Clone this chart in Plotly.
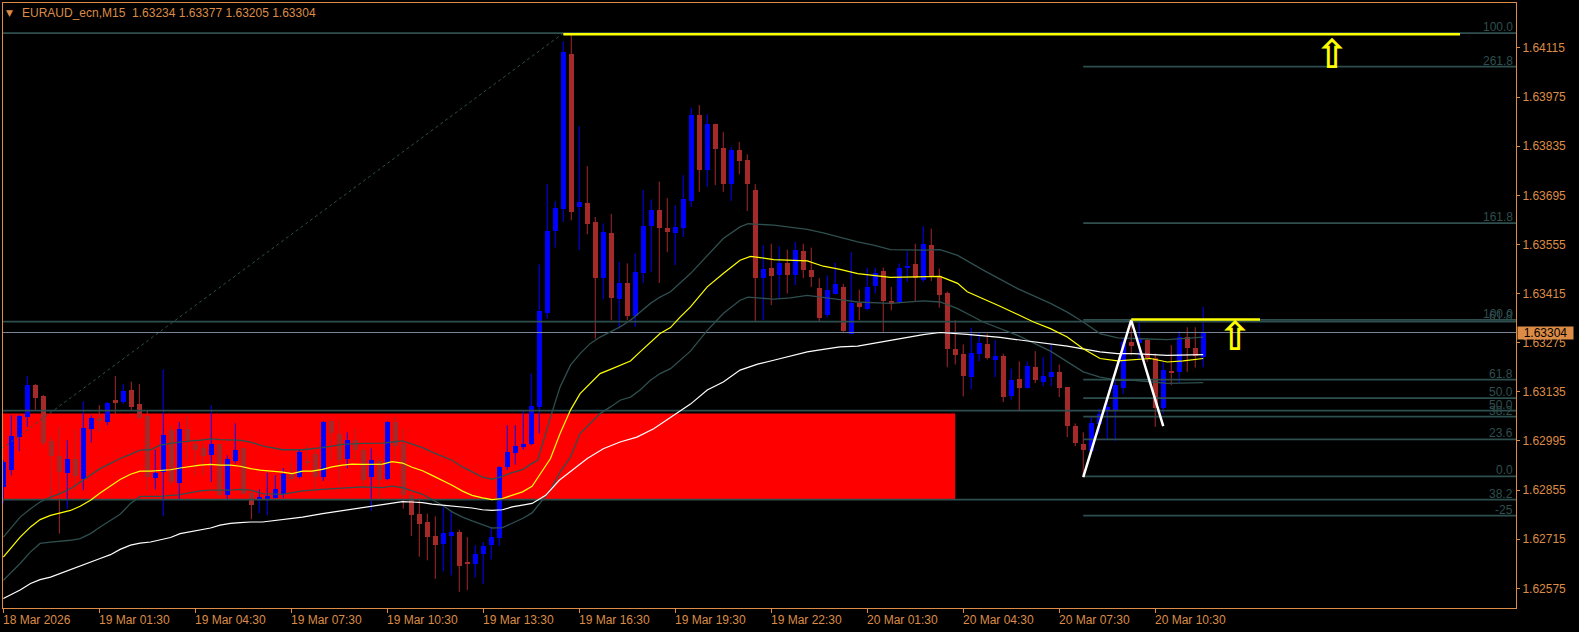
import pandas as pd
import plotly.graph_objects as go

TITLE = "EURAUD_ecn,M15  1.63234 1.63377 1.63205 1.63304"
FIRST_BAR_TIME = "2026-03-18 22:30"
BAR_MINUTES = 15
LAST_PRICE = 1.63304

OPEN = [1.62864, 1.62913, 1.63006, 1.63063, 1.63154, 1.63122, 1.62994, 1.62951, 1.62904, 1.62943,
        1.62886, 1.63028, 1.63061, 1.63048, 1.63113, 1.63106, 1.63140, 1.63100, 1.63065, 1.62890,
        1.62907, 1.63026, 1.62875, 1.63028, 1.62987, 1.62974, 1.62954, 1.62985, 1.62840, 1.62938,
        1.62974, 1.62847, 1.62826, 1.62829, 1.62833, 1.62843, 1.62903, 1.62892, 1.62937, 1.62959,
        1.62892, 1.63051, 1.63016, 1.62944, 1.62997, 1.62970, 1.62891, 1.62937, 1.62888, 1.63048,
        1.62985, 1.62840, 1.62786, 1.62764, 1.62723, 1.62702, 1.62724, 1.62735, 1.62650, 1.62644,
        1.62673, 1.62698, 1.62718, 1.62920, 1.62960, 1.62978, 1.62987, 1.63092, 1.63359, 1.63593,
        1.63655, 1.64097, 1.63662, 1.63672, 1.63618, 1.63460, 1.63587, 1.63400, 1.63444, 1.63351,
        1.63474, 1.63608, 1.63652, 1.63601, 1.63588, 1.63602, 1.63679, 1.63923, 1.63766, 1.63897,
        1.63830, 1.63727, 1.63823, 1.63795, 1.63710, 1.63460, 1.63488, 1.63467, 1.63503, 1.63467,
        1.63536, 1.63482, 1.63431, 1.63353, 1.63415, 1.63435, 1.63301, 1.63388, 1.63372, 1.63437,
        1.63479, 1.63393, 1.63391, 1.63488, 1.63498, 1.63455, 1.63553, 1.63465, 1.63416, 1.63256,
        1.63244, 1.63177, 1.63244, 1.63270, 1.63227, 1.63236, 1.63123, 1.63171, 1.63146, 1.63205,
        1.63164, 1.63177, 1.63192, 1.63149, 1.63039, 1.62987, 1.62966, 1.63043, 1.63080, 1.63084,
        1.63147, 1.63277, 1.63274, 1.63282, 1.63230, 1.63090, 1.63195, 1.63192, 1.63290, 1.63260,
        1.63234]
HIGH = [1.62940, 1.63068, 1.63068, 1.63180, 1.63157, 1.63126, 1.63006, 1.63035, 1.62997, 1.63028,
        1.63108, 1.63068, 1.63097, 1.63106, 1.63180, 1.63157, 1.63164, 1.63157, 1.63083, 1.62970,
        1.63199, 1.63040, 1.63049, 1.63068, 1.63003, 1.62990, 1.63097, 1.62987, 1.62954, 1.63045,
        1.62976, 1.62850, 1.62857, 1.62904, 1.62897, 1.62918, 1.62934, 1.62969, 1.62983, 1.62969,
        1.63051, 1.63053, 1.63056, 1.63020, 1.63030, 1.62975, 1.62974, 1.62945, 1.63051, 1.63063,
        1.63030, 1.62845, 1.62840, 1.62788, 1.62780, 1.62807, 1.62796, 1.62742, 1.62721, 1.62698,
        1.62707, 1.62750, 1.62923, 1.63040, 1.63040, 1.63083, 1.63187, 1.63498, 1.63727, 1.63678,
        1.64134, 1.64155, 1.63892, 1.63778, 1.63633, 1.63615, 1.63642, 1.63505, 1.63501, 1.63529,
        1.63710, 1.63683, 1.63734, 1.63687, 1.63667, 1.63752, 1.63945, 1.63952, 1.63926, 1.63899,
        1.63875, 1.63833, 1.63847, 1.63812, 1.63727, 1.63553, 1.63557, 1.63550, 1.63540, 1.63562,
        1.63557, 1.63546, 1.63459, 1.63467, 1.63503, 1.63443, 1.63533, 1.63426, 1.63489, 1.63489,
        1.63489, 1.63434, 1.63501, 1.63536, 1.63557, 1.63607, 1.63600, 1.63486, 1.63421, 1.63339,
        1.63270, 1.63318, 1.63306, 1.63301, 1.63282, 1.63244, 1.63201, 1.63222, 1.63222, 1.63251,
        1.63234, 1.63273, 1.63213, 1.63149, 1.63045, 1.63020, 1.63063, 1.63087, 1.63111, 1.63168,
        1.63286, 1.63339, 1.63343, 1.63286, 1.63244, 1.63219, 1.63268, 1.63308, 1.63319, 1.63319,
        1.63377]
LOW = [1.62817, 1.62897, 1.62966, 1.63035, 1.63084, 1.62983, 1.62826, 1.62731, 1.62802, 1.62855,
       1.62855, 1.62990, 1.63020, 1.63040, 1.63073, 1.63101, 1.63083, 1.63056, 1.62855, 1.62857,
       1.62781, 1.62869, 1.62826, 1.62940, 1.62897, 1.62897, 1.62878, 1.62835, 1.62828, 1.62931,
       1.62843, 1.62772, 1.62789, 1.62783, 1.62831, 1.62833, 1.62880, 1.62888, 1.62920, 1.62850,
       1.62881, 1.62940, 1.62874, 1.62917, 1.62940, 1.62869, 1.62796, 1.62831, 1.62883, 1.62940,
       1.62802, 1.62724, 1.62665, 1.62655, 1.62602, 1.62624, 1.62612, 1.62565, 1.62570, 1.62606,
       1.62587, 1.62657, 1.62696, 1.62912, 1.62928, 1.62970, 1.62983, 1.63016, 1.63343, 1.63546,
       1.63619, 1.63624, 1.63539, 1.63584, 1.63286, 1.63399, 1.63339, 1.63315, 1.63339, 1.63320,
       1.63445, 1.63477, 1.63445, 1.63533, 1.63496, 1.63576, 1.63662, 1.63705, 1.63719, 1.63724,
       1.63705, 1.63679, 1.63755, 1.63650, 1.63337, 1.63339, 1.63382, 1.63401, 1.63415, 1.63439,
       1.63459, 1.63434, 1.63334, 1.63347, 1.63413, 1.63306, 1.63299, 1.63339, 1.63367, 1.63415,
       1.63306, 1.63367, 1.63387, 1.63448, 1.63391, 1.63448, 1.63451, 1.63375, 1.63205, 1.63213,
       1.63122, 1.63142, 1.63222, 1.63227, 1.63177, 1.63106, 1.63113, 1.63080, 1.63144, 1.63160,
       1.63151, 1.63151, 1.63120, 1.63006, 1.62980, 1.62892, 1.62963, 1.63016, 1.62997, 1.62995,
       1.63129, 1.63239, 1.63225, 1.63220, 1.63035, 1.63073, 1.63154, 1.63160, 1.63192, 1.63204,
       1.63205]
CLOSE = [1.62935, 1.63008, 1.63065, 1.63154, 1.63118, 1.62989, 1.62951, 1.62907, 1.62943, 1.62895,
         1.63031, 1.63061, 1.63051, 1.63102, 1.63103, 1.63136, 1.63092, 1.63061, 1.62891, 1.62904,
         1.63011, 1.62879, 1.63028, 1.62997, 1.62970, 1.62951, 1.62985, 1.62840, 1.62943, 1.62969,
         1.62845, 1.62812, 1.62835, 1.62837, 1.62857, 1.62901, 1.62886, 1.62963, 1.62931, 1.62892,
         1.63048, 1.63019, 1.62942, 1.62997, 1.62970, 1.62885, 1.62940, 1.62885, 1.63048, 1.62980,
         1.62840, 1.62783, 1.62757, 1.62721, 1.62698, 1.62732, 1.62735, 1.62639, 1.62644, 1.62674,
         1.62697, 1.62720, 1.62920, 1.62963, 1.62980, 1.62985, 1.63094, 1.63364, 1.63592, 1.63659,
         1.64104, 1.63648, 1.63675, 1.63613, 1.63460, 1.63590, 1.63403, 1.63446, 1.63351, 1.63476,
         1.63607, 1.63652, 1.63603, 1.63590, 1.63605, 1.63684, 1.63923, 1.63766, 1.63897, 1.63827,
         1.63727, 1.63823, 1.63793, 1.63727, 1.63460, 1.63484, 1.63464, 1.63501, 1.63467, 1.63539,
         1.63482, 1.63462, 1.63346, 1.63426, 1.63443, 1.63308, 1.63388, 1.63377, 1.63435, 1.63473,
         1.63394, 1.63388, 1.63489, 1.63493, 1.63459, 1.63556, 1.63465, 1.63410, 1.63256, 1.63239,
         1.63179, 1.63247, 1.63273, 1.63231, 1.63238, 1.63120, 1.63168, 1.63146, 1.63209, 1.63168,
         1.63179, 1.63192, 1.63146, 1.63037, 1.62989, 1.62969, 1.63046, 1.63073, 1.63092, 1.63154,
         1.63277, 1.63266, 1.63288, 1.63230, 1.63090, 1.63197, 1.63189, 1.63290, 1.63260, 1.63236,
         1.63304]

# indicator lines (bar position, price)
MA_FAST_BARS = [0, 2.1, 3.4, 4.6, 5.9, 7.1, 8.4, 9.6, 10.9, 12.1, 13.4, 14.6, 15.9, 17.1, 18.4, 19.6, 20.9,
                22.1, 23.4, 24.6, 25.9, 27.1, 28.4, 29.6, 30.9, 32.1, 34.9, 36.1, 37.4, 38.6, 39.9, 41.1,
                42.4, 43.6, 44.9, 46.1, 47.4, 48.6, 49.9, 51.1, 52.4, 53.6, 54.9, 56.1, 57.4, 58.6, 59.9,
                61.1, 62.4, 63.6, 64.9, 66.1, 68.4, 69.6, 70.9, 72.1, 73.4, 74.6, 75.9, 77.1, 78.4, 79.6,
                80.9, 82.1, 83.4, 84.6, 85.9, 88, 90, 92.1, 93.4, 96.3, 100.5, 102.5, 104.6, 106.8, 110.9,
                113, 115, 117.1, 119.3, 120.5, 124.6, 128.8, 130.9, 133, 135, 137.1, 139.3, 141.3, 143.4,
                145.5, 147.5, 150]
MA_FAST = [1.62664, 1.62721, 1.62750, 1.62771, 1.62783, 1.62789, 1.62797, 1.62809, 1.62826, 1.62847,
           1.62866, 1.62885, 1.62900, 1.62909, 1.62909, 1.62911, 1.62913, 1.62918, 1.62923, 1.62926,
           1.62928, 1.62926, 1.62926, 1.62923, 1.62916, 1.62912, 1.62906, 1.62902, 1.62909, 1.62909,
           1.62914, 1.62921, 1.62926, 1.62929, 1.62928, 1.62928, 1.62929, 1.62936, 1.62932, 1.62920,
           1.62910, 1.62897, 1.62883, 1.62869, 1.62852, 1.62840, 1.62833, 1.62828, 1.62831, 1.62840,
           1.62850, 1.62866, 1.62945, 1.63016, 1.63083, 1.63130, 1.63159, 1.63187, 1.63199, 1.63211,
           1.63223, 1.63249, 1.63277, 1.63301, 1.63318, 1.63348, 1.63377, 1.63434, 1.63472, 1.63510,
           1.63521, 1.63512, 1.63508, 1.63493, 1.63484, 1.63472, 1.63461, 1.63462, 1.63465, 1.63464,
           1.63444, 1.63420, 1.63379, 1.63334, 1.63315, 1.63291, 1.63258, 1.63230, 1.63223, 1.63227,
           1.63230, 1.63220, 1.63223, 1.63230]

BAND_UP_BARS = [0, 2.1, 3.4, 4.6, 5.9, 7.1, 8.4, 9.6, 10.9, 12.1, 13.4, 14.6, 15.9, 17.1, 18.4, 19.6,
                20.9, 22.1, 23.4, 24.6, 25.9, 27.1, 28.4, 29.6, 30.9, 32.4, 34.9, 37.4, 39.9, 41.1, 42.4,
                44.9, 47.4, 48.6, 49.9, 51.1, 52.4, 53.6, 54.9, 56.1, 57.4, 58.6, 59.9, 61.1, 62.4, 63.6,
                64.9, 66.1, 66.8, 68.4, 69.6, 70.9, 72.1, 73.4, 74.6, 75.9, 77.1, 78.4, 79.6, 80.9, 82.1,
                83.4, 85.9, 88, 90, 92.1, 93.1, 96.3, 100.5, 102.5, 104.6, 106.8, 108.8, 110.9, 115,
                117.1, 119.3, 122.5, 126.8, 130.9, 133, 135, 137.1, 139.3, 141.3, 145.5, 150]
BAND_UP = [1.62721, 1.62778, 1.62802, 1.62821, 1.62835, 1.62845, 1.62859, 1.62878, 1.62897, 1.62916,
           1.62931, 1.62945, 1.62957, 1.62969, 1.62970, 1.62983, 1.62988, 1.62992, 1.62995, 1.62997,
           1.63001, 1.62999, 1.62999, 1.62997, 1.62992, 1.62981, 1.62970, 1.62970, 1.62976, 1.62980,
           1.62985, 1.62988, 1.62989, 1.62992, 1.62995, 1.62986, 1.62976, 1.62963, 1.62951, 1.62940,
           1.62921, 1.62907, 1.62892, 1.62886, 1.62894, 1.62905, 1.62913, 1.62931, 1.62940, 1.63063,
           1.63149, 1.63211, 1.63244, 1.63273, 1.63291, 1.63306, 1.63320, 1.63339, 1.63362, 1.63387,
           1.63405, 1.63420, 1.63472, 1.63524, 1.63572, 1.63605, 1.63614, 1.63610, 1.63598, 1.63588,
           1.63575, 1.63562, 1.63553, 1.63540, 1.63539, 1.63540, 1.63524, 1.63482, 1.63429, 1.63387,
           1.63362, 1.63334, 1.63301, 1.63289, 1.63287, 1.63284, 1.63291]

BAND_LO_BARS = [0, 2.1, 3.4, 4.6, 5.9, 7.1, 8.4, 9.6, 10.9, 12.1, 13.4, 14.6, 15.9, 17.1, 19.6, 20.9,
                22.1, 24.6, 25.9, 28.4, 29.6, 30.9, 32.4, 34.9, 37.4, 39.9, 42.4, 44.9, 47.4, 48.6, 49.9,
                51.1, 52.4, 53.6, 54.9, 56.1, 57.4, 58.6, 59.9, 61.1, 62.4, 63.6, 64.9, 66.1, 68.4, 69.6,
                70.9, 72.1, 73.4, 74.6, 75.9, 77.1, 78.4, 79.6, 80.9, 82.1, 83.4, 85.9, 88, 90, 92.1, 93.1,
                96.3, 98.4, 100.5, 102.5, 104.6, 106.8, 108.8, 110.9, 115, 117.1, 119.3, 122.5, 126.8,
                130.9, 135, 137.1, 139.3, 141.3, 145.5, 150]
BAND_LO = [1.62598, 1.62646, 1.62679, 1.62703, 1.62707, 1.62709, 1.62712, 1.62717, 1.62731, 1.62750,
           1.62769, 1.62786, 1.62817, 1.62837, 1.62837, 1.62839, 1.62842, 1.62853, 1.62855, 1.62855,
           1.62857, 1.62855, 1.62845, 1.62843, 1.62853, 1.62857, 1.62861, 1.62864, 1.62862, 1.62866,
           1.62862, 1.62853, 1.62843, 1.62828, 1.62812, 1.62793, 1.62778, 1.62767, 1.62757, 1.62747,
           1.62748, 1.62760, 1.62774, 1.62790, 1.62855, 1.62906, 1.62949, 1.63016, 1.63045, 1.63073,
           1.63092, 1.63111, 1.63120, 1.63140, 1.63168, 1.63187, 1.63201, 1.63251, 1.63310, 1.63358,
           1.63396, 1.63405, 1.63399, 1.63403, 1.63410, 1.63405, 1.63398, 1.63391, 1.63389, 1.63387,
           1.63394, 1.63391, 1.63372, 1.63334, 1.63296, 1.63251, 1.63192, 1.63177, 1.63168, 1.63168,
           1.63159, 1.63161]

MA_SLOW_BARS = [0, 2.1, 3.4, 4.6, 5.9, 7.1, 8.4, 9.6, 10.9, 12.1, 13.4, 14.6, 15.9, 17.1, 18.4, 19.6,
                20.9, 22.1, 23.4, 24.6, 25.9, 27.1, 28.4, 29.6, 30.9, 32.4, 34.9, 37.4, 39.9, 42.4, 44.9,
                47.4, 48.6, 49.9, 51.1, 52.4, 53.6, 54.9, 56.1, 57.4, 58.6, 59.9, 61.1, 62.4, 63.6, 64.9,
                66.1, 67.8, 69.5, 73, 75, 77.1, 79.2, 81.3, 83.4, 85.9, 88, 90, 92.1, 94.3, 96.3, 98.4,
                100.5, 102.5, 104.6, 106.8, 108.8, 110.9, 113, 115, 117.1, 119.3, 120.5, 124.6, 128.8,
                133, 137.1, 139.3, 141.3, 145.5, 150]
MA_SLOW = [1.62546, 1.62570, 1.62589, 1.62600, 1.62607, 1.62617, 1.62627, 1.62638, 1.62650, 1.62660,
           1.62671, 1.62686, 1.62698, 1.62704, 1.62707, 1.62714, 1.62720, 1.62731, 1.62736, 1.62742,
           1.62747, 1.62755, 1.62760, 1.62762, 1.62764, 1.62764, 1.62771, 1.62778, 1.62788, 1.62797,
           1.62805, 1.62815, 1.62819, 1.62822, 1.62821, 1.62819, 1.62815, 1.62812, 1.62810, 1.62807,
           1.62804, 1.62799, 1.62797, 1.62799, 1.62807, 1.62812, 1.62817, 1.62840, 1.62883, 1.62945,
           1.62973, 1.62992, 1.63006, 1.63030, 1.63063, 1.63100, 1.63140, 1.63163, 1.63197, 1.63214,
           1.63225, 1.63236, 1.63249, 1.63256, 1.63263, 1.63265, 1.63273, 1.63280, 1.63290, 1.63298,
           1.63304, 1.63301, 1.63299, 1.63290, 1.63277, 1.63265, 1.63249, 1.63244, 1.63244, 1.63239,
           1.63241]

# drawn objects
ZONE_BARS = [-1, 119]
ZONE_PRICES = [1.62828, 1.63073]

FIB_A_BARS = [-57.5, 70]
FIB_A_PRICES = [1.62006, 1.64157]
FIB_A_LEVELS = [0.236, 0.382, 0.5, 0.618, 1.0]
FIB_A_LABELS = ["23.6", "38.2", "50.0", "61.8", "100.0"]

FIB_B_BARS = [135, 141]
FIB_B_PRICES = [1.62894, 1.63340]
FIB_B_LEVELS = [-0.25, 0.0, 0.236, 0.382, 0.5, 0.618, 1.0, 1.618, 2.618]
FIB_B_LABELS = ["-25", "0.0", "23.6", "38.2", "50.0", "61.8", "100.0", "161.8", "261.8"]

ZIGZAG_BARS = [135, 141, 145]
ZIGZAG_PRICES = [1.62892, 1.63339, 1.63037]

TOP_LINE_BARS = [70, 182.1]
TOP_LINE_PRICE = 1.64154
SHORT_LINE_BARS = [141, 157.1]
SHORT_LINE_PRICE = 1.63341

ARROW_BARS = [166.1, 154.0]
ARROW_PRICES = [1.64097, 1.63295]

X_TICK_BARS = [0, 12, 24, 36, 48, 60, 72, 84, 96, 108, 120, 132, 144]
X_TICK_TEXT = ["18 Mar 2026", "19 Mar 01:30", "19 Mar 04:30", "19 Mar 07:30", "19 Mar 10:30",
               "19 Mar 13:30", "19 Mar 16:30", "19 Mar 19:30", "19 Mar 22:30", "20 Mar 01:30",
               "20 Mar 04:30", "20 Mar 07:30", "20 Mar 10:30"]
Y_TICKS = [1.62575, 1.62715, 1.62855, 1.62995, 1.63135, 1.63275, 1.63415, 1.63555,
           1.63695, 1.63835, 1.63975, 1.64115]
X_VIEW_BARS = [-0.04, 189.1]
Y_VIEW = [1.62519, 1.64243]

ORANGE = "#DC8C46"
BULL = "#0000FF"
BEAR = "#A52A2A"
SLATE = "#2F4F4F"
FONT = "Liberation Sans, Arial, sans-serif"

T0 = pd.Timestamp(FIRST_BAR_TIME)


def t(b):
    return T0 + pd.Timedelta(minutes=BAR_MINUTES * b)


n = len(OPEN)
times = [t(i) for i in range(n)]
fig = go.Figure()

# wicks
for want_bull, col in ((True, BULL), (False, BEAR)):
    xs, ys = [], []
    for i in range(n):
        if (CLOSE[i] >= OPEN[i]) == want_bull:
            xs += [times[i], times[i], None]
            ys += [LOW[i], HIGH[i], None]
    fig.add_trace(go.Scatter(x=xs, y=ys, mode="lines", line=dict(color=col, width=1),
                             hoverinfo="skip"))

# bodies
base = [min(o, c) for o, c in zip(OPEN, CLOSE)]
height = [max(abs(c - o), 0.00002) for o, c in zip(OPEN, CLOSE)]
colors = [BULL if c >= o else BEAR for o, c in zip(OPEN, CLOSE)]
fig.add_trace(go.Bar(x=times, y=height, base=base, width=0.65 * BAR_MINUTES * 60000,
                     marker=dict(color=colors, line=dict(width=0)), hoverinfo="skip"))


def fib_price(prices, lvl):
    return prices[0] + lvl * (prices[1] - prices[0])


# fib level lines
for bars, prices, levels in ((FIB_A_BARS, FIB_A_PRICES, FIB_A_LEVELS),
                             (FIB_B_BARS, FIB_B_PRICES, FIB_B_LEVELS)):
    xs, ys = [], []
    for lvl in levels:
        p = fib_price(prices, lvl)
        xs += [t(bars[0]), t(X_VIEW_BARS[1] + 1), None]
        ys += [p, p, None]
    fig.add_trace(go.Scatter(x=xs, y=ys, mode="lines", line=dict(color=SLATE, width=1.8),
                             hoverinfo="skip"))

# fib A diagonal (dotted)
fig.add_trace(go.Scatter(x=[t(b) for b in FIB_A_BARS], y=FIB_A_PRICES, mode="lines",
                         line=dict(color=SLATE, width=1, dash="3px,3px"), hoverinfo="skip"))

# bid line
fig.add_trace(go.Scatter(x=[t(X_VIEW_BARS[0] - 1), t(X_VIEW_BARS[1] + 1)], y=[LAST_PRICE, LAST_PRICE],
                         mode="lines", line=dict(color="#778899", width=1), hoverinfo="skip"))

# moving averages / bands
for bars, vals, col, w in ((BAND_UP_BARS, BAND_UP, SLATE, 1.3),
                           (BAND_LO_BARS, BAND_LO, SLATE, 1.3),
                           (MA_SLOW_BARS, MA_SLOW, "#FFFFFF", 1.2),
                           (MA_FAST_BARS, MA_FAST, "#FFFF00", 1.2)):
    fig.add_trace(go.Scatter(x=[t(b) for b in bars], y=vals, mode="lines",
                             line=dict(color=col, width=w), hoverinfo="skip"))

# trend lines
fig.add_trace(go.Scatter(x=[t(b) for b in ZIGZAG_BARS], y=ZIGZAG_PRICES, mode="lines",
                         line=dict(color="#FFFFFF", width=2.5), hoverinfo="skip"))
fig.add_trace(go.Scatter(x=[t(b) for b in TOP_LINE_BARS], y=[TOP_LINE_PRICE] * 2, mode="lines",
                         line=dict(color="#FFFF00", width=2.5), hoverinfo="skip"))
fig.add_trace(go.Scatter(x=[t(b) for b in SHORT_LINE_BARS], y=[SHORT_LINE_PRICE] * 2, mode="lines",
                         line=dict(color="#FFFF00", width=2.5), hoverinfo="skip"))

shapes = [dict(type="rect", xref="x", yref="y", x0=t(ZONE_BARS[0]), x1=t(ZONE_BARS[1]),
               y0=ZONE_PRICES[0], y1=ZONE_PRICES[1], fillcolor="#FF0000", line=dict(width=0),
               layer="below")]

annotations = []
for prices, levels, labels in ((FIB_A_PRICES, FIB_A_LEVELS, FIB_A_LABELS),
                               (FIB_B_PRICES, FIB_B_LEVELS, FIB_B_LABELS)):
    for lvl, lab in zip(levels, labels):
        annotations.append(dict(xref="paper", x=1, xanchor="right", xshift=-1,
                                yref="y", y=fib_price(prices, lvl), yanchor="bottom", yshift=-3,
                                text=lab, showarrow=False, font=dict(family=FONT, size=12, color=SLATE)))

for b, lab in zip(X_TICK_BARS, X_TICK_TEXT):
    annotations.append(dict(xref="x", x=t(b), xanchor="left", xshift=-2, yref="paper", y=0,
                            yanchor="top", yshift=-3, text=lab, showarrow=False,
                            font=dict(family=FONT, size=12, color=ORANGE)))

for b, p in zip(ARROW_BARS, ARROW_PRICES):
    annotations.append(dict(xref="x", x=t(b), yref="y", y=p, text="<b>\u21e7</b>", showarrow=False,
                            font=dict(family="DejaVu Sans", size=40, color="#FFFF00")))

annotations.append(dict(xref="paper", x=1, xanchor="left", xshift=1, yref="y", y=LAST_PRICE,
                        yanchor="middle", text=f"{LAST_PRICE:.5f}", showarrow=False,
                        bgcolor=ORANGE, width=55, height=12, borderpad=0, align="center",
                        font=dict(family=FONT, size=12, color="#000000")))
annotations.append(dict(xref="paper", x=0, xanchor="left", xshift=1, yref="paper", y=1,
                        yanchor="middle", yshift=-10, text="\u25bc", showarrow=False,
                        font=dict(family="DejaVu Sans", size=9, color=ORANGE)))
annotations.append(dict(xref="paper", x=0, xanchor="left", xshift=17, yref="paper", y=1,
                        yanchor="middle", yshift=-10, text=TITLE, showarrow=False,
                        font=dict(family=FONT, size=12, color=ORANGE)))

fig.update_layout(
    width=1579, height=632,
    margin=dict(l=3, r=63, t=3, b=24),
    paper_bgcolor="#000000", plot_bgcolor="#000000",
    showlegend=False, barmode="overlay", bargap=0,
    shapes=shapes, annotations=annotations,
    xaxis=dict(range=[t(X_VIEW_BARS[0]), t(X_VIEW_BARS[1])], showgrid=False, zeroline=False,
               showline=True, linecolor=ORANGE, linewidth=1, mirror=True,
               tickvals=[t(b) for b in X_TICK_BARS], ticks="outside", ticklen=4,
               tickcolor=ORANGE, showticklabels=False),
    yaxis=dict(range=Y_VIEW, side="right", showgrid=False, zeroline=False,
               showline=True, linecolor=ORANGE, linewidth=1, mirror=True,
               tickvals=Y_TICKS, ticktext=[f"{v:.5f}" for v in Y_TICKS],
               ticks="outside", ticklen=3, tickcolor=ORANGE,
               tickfont=dict(family=FONT, size=12, color=ORANGE)),
)

fig.write_html("out.html", config={"displayModeBar": False},
               post_script="document.body.style.margin='0';document.body.style.overflow='hidden';"
                           "document.body.style.background='#000';")
